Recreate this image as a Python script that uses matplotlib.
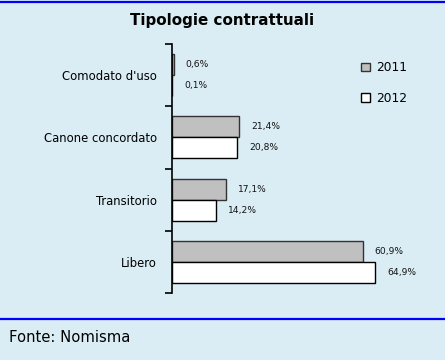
import matplotlib.pyplot as plt
from matplotlib.lines import Line2D

# Dati
categorie = ["Comodato d'uso", "Canone concordato", "Transitorio", "Libero"]
valori_2011 = [0.6, 21.4, 17.1, 60.9]
valori_2012 = [0.1, 20.8, 14.2, 64.9]
anni = ["2011", "2012"]

sfondo = "#daedf4"
W, H = 445, 360

fig = plt.figure(figsize=(W / 100, H / 100), dpi=100, facecolor=sfondo)
ax = fig.add_axes([172 / W, 1 - 293 / H, 263 / W, 249 / H])
ax.set_facecolor(sfondo)

pos = list(range(len(categorie)))
h = 0.337
b1 = ax.barh([p - h / 2 for p in pos], valori_2011, height=h, color="#c0c0c0",
             edgecolor="#333333", linewidth=1, label=anni[0])
b2 = ax.barh([p + h / 2 for p in pos], valori_2012, height=h, color="white",
             edgecolor="black", linewidth=1, label=anni[1])

for barre, vals in ((b1, valori_2011), (b2, valori_2012)):
    for r, v in zip(barre, vals):
        ax.annotate(f"{v:.1f}%".replace(".", ","),
                    (r.get_width(), r.get_y() + r.get_height() / 2),
                    xytext=(8.6, 0), textcoords="offset points",
                    ha="left", va="center", fontsize=6.6, color="#111111")

ax.set_xlim(0, 84)
ax.set_ylim(len(categorie) - 0.5, -0.5)

# assi
for s in ["top", "right", "bottom"]:
    ax.spines[s].set_visible(False)
ax.spines["left"].set_linewidth(1.2)
ax.set_xticks([])
ax.set_yticks(pos)
ax.set_yticklabels(categorie, fontsize=8.4)
ax.tick_params(axis="y", which="major", length=0, pad=10.8)
ax.set_yticks([p - 0.5 for p in range(len(categorie) + 1)], minor=True)
ax.tick_params(axis="y", which="minor", length=5, width=1.2)

fig.text(0.5, 1 - 20 / H, "Tipologie contrattuali", ha="center", va="center",
         fontsize=10.9, fontweight="bold")

fig.legend(handles=[b1, b2], loc="upper left", bbox_to_anchor=(355 / W, 1 - 55 / H),
           frameon=False, fontsize=8.8, handlelength=0.7, handleheight=0.7,
           handletextpad=0.55, labelspacing=1.45, borderpad=0)

# linee blu e fonte
fig.add_artist(Line2D([0, 1], [1 - 1.5 / H, 1 - 1.5 / H], color="#0000ff", lw=1.6))
fig.add_artist(Line2D([0, 1], [1 - 318.5 / H, 1 - 318.5 / H], color="#0000ff", lw=1.6))
fig.text(9 / W, 1 - 337 / H, "Fonte: Nomisma", ha="left", va="center", fontsize=10.6)

fig.savefig("out.png", dpi=100, facecolor=sfondo)
